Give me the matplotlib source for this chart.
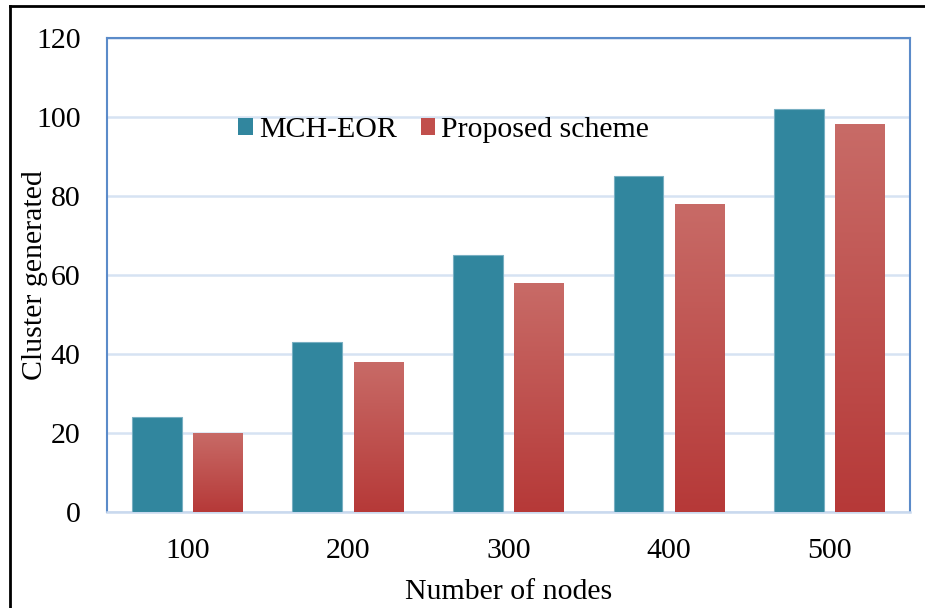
import numpy as np
import matplotlib
matplotlib.use("Agg")
import matplotlib.pyplot as plt
from matplotlib.lines import Line2D
from matplotlib.patches import Patch
from matplotlib.colors import LinearSegmentedColormap

plt.rcParams['font.family'] = ['Liberation Serif', 'DejaVu Serif']

# data
nodes = ['100', '200', '300', '400', '500']
mch_eor = [24, 43, 65, 85, 102]
proposed = [20, 38, 58, 78, 98]

teal = '#31869E'
red_top = '#C86B67'
red_bottom = '#B63938'
fs = 21.5

fig = plt.figure(figsize=(9.25, 6.08), dpi=100)
ax = fig.add_axes([107 / 925, 1 - 512 / 608, 803 / 925, 474.5 / 608])

x = np.arange(len(nodes))
bar_w = 0.31
off = 0.19

ax.bar(x - off, mch_eor, bar_w, color=teal, edgecolor='#78AFC2', linewidth=0.8, zorder=3)
red_bars = ax.bar(x + off, proposed, bar_w, color='none', edgecolor='none', zorder=3)

# vertical gradient on the red bars (lighter at the top)
cmap = LinearSegmentedColormap.from_list('redgrad', [red_bottom, red_top])
grad = np.linspace(0, 1, 256).reshape(-1, 1)
for b in red_bars:
    x0, w, h = b.get_x(), b.get_width(), b.get_height()
    im = ax.imshow(grad, cmap=cmap, origin='lower', aspect='auto',
                   extent=[x0, x0 + w, 0, h], zorder=3)
    im.set_clip_path(b)

ax.set_xlim(-0.5, 4.5)
ax.set_ylim(0, 120)
ax.set_yticks(np.arange(0, 121, 20))
ax.set_xticks(x)
ax.set_xticklabels(nodes)
ax.grid(axis='y', color='#D6E3F3', linewidth=1.8, zorder=0)
ax.set_axisbelow(True)
ax.tick_params(axis='both', length=0, labelsize=fs)
ax.tick_params(axis='y', pad=19)
ax.tick_params(axis='x', pad=19)

for s in ['left', 'top', 'right']:
    ax.spines[s].set_color('#5B8BC9')
    ax.spines[s].set_linewidth(1.5)
ax.spines['bottom'].set_color('#C9D9EE')
ax.spines['bottom'].set_linewidth(1.8)

ax.set_ylabel('Cluster generated', fontsize=fs)
ax.yaxis.set_label_coords(-59 / 803, 0.5)
ax.set_xlabel('Number of nodes', fontsize=fs)
ax.xaxis.set_label_coords(0.5, -67 / 474.5)

handles = [Patch(facecolor=teal, edgecolor='none'),
           Patch(facecolor='#C14F4C', edgecolor='none')]
ax.legend(handles, ['MCH-EOR', 'Proposed scheme'], ncol=2, frameon=False,
          fontsize=fs, loc='center left', bbox_to_anchor=(0.163, 0.805),
          borderpad=0, borderaxespad=0, handlelength=0.5, handleheight=0.5,
          handletextpad=0.2, columnspacing=0.8)

# outer black frame (left and top edges visible)
fig.add_artist(Line2D([9.5 / 925, 9.5 / 925], [0, 1 - 6 / 608], color='black', lw=2,
                      transform=fig.transFigure))
fig.add_artist(Line2D([9.5 / 925, 1], [1 - 6 / 608, 1 - 6 / 608], color='black', lw=2,
                      transform=fig.transFigure))

fig.savefig('out.png', dpi=100)
